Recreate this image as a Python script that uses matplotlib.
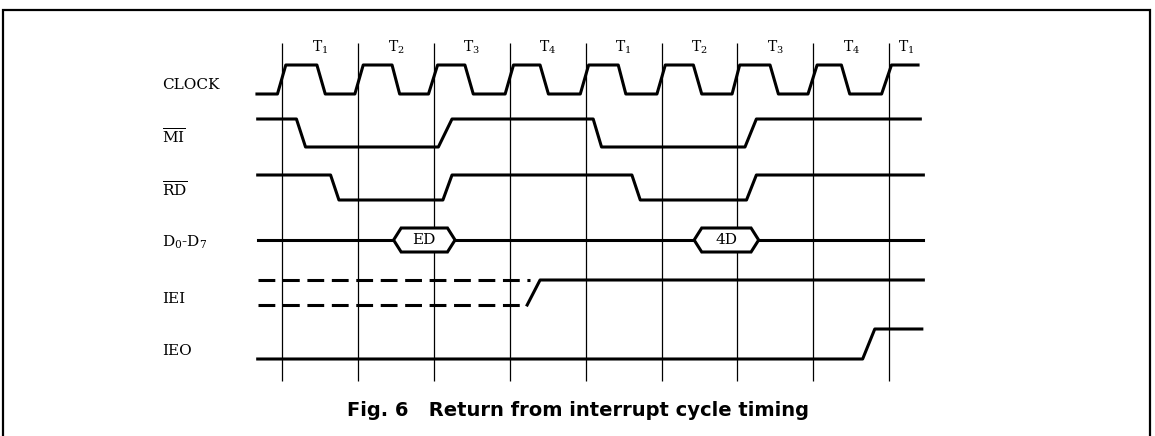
import numpy as np
import matplotlib
matplotlib.use('Agg')
import matplotlib.pyplot as plt
from matplotlib.patches import Polygon, Rectangle

plt.rcParams['font.family'] = 'DejaVu Serif'
plt.rcParams['mathtext.fontset'] = 'dejavuserif'

# Clock period labels (last T1 is only a partial cycle)
cycle_labels = ['T$_1$', 'T$_2$', 'T$_3$', 'T$_4$', 'T$_1$', 'T$_2$', 'T$_3$', 'T$_4$', 'T$_1$']
cycle_label_t = [0.5, 1.5, 2.5, 3.5, 4.5, 5.5, 6.5, 7.5, 8.22]
cycle_edges = [0, 1, 2, 3, 4, 5, 6, 7, 8]

signal_names = ['CLOCK', r'$\overline{\mathrm{MI}}$', r'$\overline{\mathrm{RD}}$',
                'D$_0$-D$_7$', 'IEI', 'IEO']

# Waveforms, time in clock periods, 0 = low, 1 = high
clock_t = [-0.33, -0.06, 0.05, 0.46, 0.57, 0.96, 1.07, 1.45, 1.55, 1.93, 2.05, 2.41,
           2.52, 2.94, 3.05, 3.40, 3.51, 3.93, 4.04, 4.43, 4.53, 4.94, 5.05, 5.42,
           5.53, 5.93, 6.03, 6.43, 6.54, 6.93, 7.05, 7.37, 7.48, 7.90, 8.03, 8.38]
clock_v = [0, 0, 1, 1, 0, 0, 1, 1, 0, 0, 1, 1,
           0, 0, 1, 1, 0, 0, 1, 1, 0, 0, 1, 1,
           0, 0, 1, 1, 0, 0, 1, 1, 0, 0, 1, 1]
mi_t = [-0.32, 0.19, 0.31, 2.06, 2.24, 4.10, 4.21, 6.10, 6.25, 8.41]
mi_v = [1, 1, 0, 0, 1, 1, 0, 0, 1, 1]
rd_t = [-0.32, 0.64, 0.75, 2.12, 2.24, 4.61, 4.72, 6.12, 6.25, 8.45]
rd_v = [1, 1, 0, 0, 1, 1, 0, 0, 1, 1]

bus_span = [-0.32, 8.45]
bus_labels = ['ED', '4D']
bus_start = [1.47, 5.43]
bus_end = [2.28, 6.28]

iei_unknown_t = [-0.32, 3.27, 3.23]   # start, end of dashed high, end of dashed low
iei_t = [3.23, 3.40, 8.45]
iei_v = [0, 1, 1]
ieo_t = [-0.32, 7.65, 7.81, 8.43]
ieo_v = [0, 0, 1, 1]

# layout (pixel rows, y grows downward)
PX0, PERIOD = 282, 75.9
rows = {'CLOCK': (94, 65), 'MI': (147, 119), 'RD': (200, 175),
        'IEI': (305, 280), 'IEO': (359, 329)}
bus_y, bus_h = 240, 12
label_y = [85, 137, 190, 242, 299, 351]
LW = 2.2

fig = plt.figure(figsize=(11.55, 4.36), dpi=100)
ax = fig.add_axes([0, 0, 1, 1])
ax.set_xlim(-PX0 / PERIOD, (1155 - PX0) / PERIOD)
ax.set_ylim(436, 0)
ax.axis('off')


def level(name, v):
    lo, hi = rows[name]
    return lo + (hi - lo) * np.asarray(v, dtype=float)


# cycle boundaries
ax.vlines(cycle_edges, 43, 381, color='black', lw=0.9, zorder=1)
for t, lab in zip(cycle_label_t, cycle_labels):
    ax.text(t, 47, lab, ha='center', va='center', fontsize=10)

# signal names
lab_t = (162 - PX0) / PERIOD
for y, name in zip(label_y, signal_names):
    ax.text(lab_t, y, name, ha='left', va='center', fontsize=11)

ax.plot(clock_t, level('CLOCK', clock_v), color='black', lw=LW, zorder=3)
ax.plot(mi_t, level('MI', mi_v), color='black', lw=LW, zorder=3)
ax.plot(rd_t, level('RD', rd_v), color='black', lw=LW, zorder=3)

# data bus with hex boxes
ax.plot(bus_span, [bus_y, bus_y], color='black', lw=LW, zorder=3)
inset = 0.1
for lab, t0, t1 in zip(bus_labels, bus_start, bus_end):
    pts = [(t0, bus_y), (t0 + inset, bus_y - bus_h), (t1 - inset, bus_y - bus_h),
           (t1, bus_y), (t1 - inset, bus_y + bus_h), (t0 + inset, bus_y + bus_h)]
    ax.add_patch(Polygon(pts, closed=True, facecolor='white', edgecolor='black',
                         lw=LW, zorder=4))
    ax.text((t0 + t1) / 2, bus_y, lab, ha='center', va='center', fontsize=11, zorder=5)

# IEI: undefined (dashed) until it goes high
lo, hi = rows['IEI']
ax.plot([iei_unknown_t[0], iei_unknown_t[1]], [hi, hi], color='black', lw=LW,
        dashes=(5.5, 2.5), zorder=3)
ax.plot([iei_unknown_t[0], iei_unknown_t[2]], [lo, lo], color='black', lw=LW,
        dashes=(5.5, 2.5), zorder=3)
ax.plot(iei_t, level('IEI', iei_v), color='black', lw=LW, zorder=3)

ax.plot(ieo_t, level('IEO', ieo_v), color='black', lw=LW, zorder=3)

# outer frame (open at the bottom edge of the scan)
fig.add_artist(Rectangle((3 / 1155, -0.1), (1150 - 3) / 1155, 1.1 - 10 / 436,
                         transform=fig.transFigure, fill=False, lw=1.6, color='black'))

fig.text(578 / 1155, 1 - 410 / 436, 'Fig. 6   Return from interrupt cycle timing',
         family='DejaVu Sans', weight='bold', fontsize=14, ha='center', va='center')

fig.savefig('out.png', dpi=100)
